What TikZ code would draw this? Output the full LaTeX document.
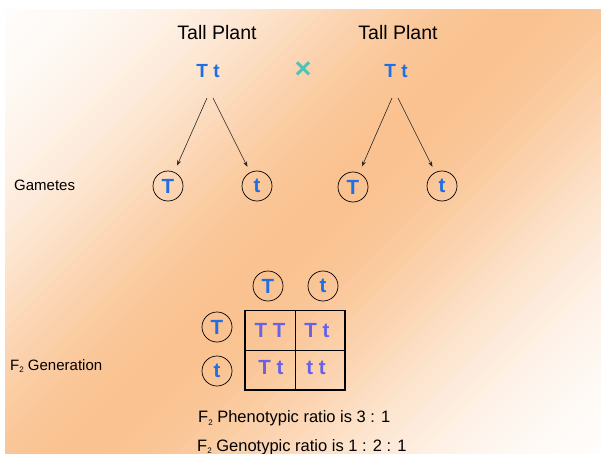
\documentclass[tikz,border=0pt]{standalone}
\usepackage{fontspec}
\setmainfont{Liberation Sans}
\usetikzlibrary{arrows.meta}
\definecolor{bgor}{RGB}{250,194,144}
\definecolor{geneblue}{RGB}{30,110,228}
\definecolor{cellpurple}{RGB}{104,96,232}
\definecolor{crossteal}{RGB}{76,196,184}
\newcommand\subtwo{\raisebox{-2.5pt}{\fontsize{8}{8}\selectfont 2}}
\tikzset{
  tplabel/.style={font=\fontsize{19.5}{22}\selectfont, text=black, inner sep=0pt},
  sidelabel/.style={font=\fontsize{15}{17}\selectfont, text=black, inner sep=0pt},
  ratiotext/.style={font=\fontsize{16.5}{19}\selectfont, text=black, inner sep=0pt},
  geno/.style={font=\bfseries\fontsize{19}{21}\selectfont, text=geneblue, inner sep=0pt},
  crossn/.style={font=\bfseries\fontsize{29}{30}\selectfont, text=crossteal, inner sep=0pt},
  gamete/.style={circle, draw=black, line width=0.7pt, minimum size=30pt, inner sep=0pt,
    text=geneblue, font=\bfseries\fontsize{20.5}{22}\selectfont},
  cellgeno/.style={font=\bfseries\fontsize{20.5}{22}\selectfont, text=cellpurple, inner sep=0pt},
  arr/.style={-{Stealth[length=5.5pt,width=4pt]}, line width=0.6pt, draw=black!85},
}
\begin{document}
\begin{tikzpicture}[x=1pt,y=-1pt]
\useasboundingbox (0,0) rectangle (601,454);
\fill[white] (0,0) rectangle (601,454);
% background gradient
\begin{scope}
\clip (5,10) rectangle (601,454);
\foreach \i in {0,...,79}{
  \pgfmathsetmacro\sa{-380+\i*9.5}
  \pgfmathsetmacro\sb{\sa+10.5}
  \pgfmathsetmacro\sm{\sa+4.75}
  \pgfmathsetmacro\p{100*exp(-(\sm/205)*(\sm/205))}
  \fill[bgor!\p!white] ({303+0.7071*(\sa+450)},{232+0.7071*(\sa-450)})
    -- ({303+0.7071*(\sa-450)},{232+0.7071*(\sa+450)})
    -- ({303+0.7071*(\sb-450)},{232+0.7071*(\sb+450)})
    -- ({303+0.7071*(\sb+450)},{232+0.7071*(\sb-450)}) -- cycle;
}
\end{scope}

% parents
\node[tplabel, anchor=base] (tp1) at (217,39.5) {Tall Plant};
\node[tplabel, anchor=base] (tp2) at (398,39.5) {Tall Plant};
\node[geno, anchor=base] (p1) at (208,77.3) {T t};
\node[geno, anchor=base] (p2) at (396,77.3) {T t};
\node[crossn] (cross) at (303,70.5) {×};

% gametes
\node[sidelabel, anchor=base west] (gam) at (14,190.5) {Gametes};
\node[gamete] (ga1) at (168,186) {T};
\node[gamete] (ga2) at (257,186) {t};
\node[gamete] (ga3) at (353,187) {T};
\node[gamete] (ga4) at (442,186) {t};

\coordinate (p1l) at (207,98);
\coordinate (p1r) at (213,98);
\coordinate (p2l) at (392,98);
\coordinate (p2r) at (398,98);
\draw[arr, shorten >=7pt] (p1l) -- (ga1);
\draw[arr, shorten >=6pt] (p1r) -- (ga2);
\draw[arr, shorten >=7pt] (p2l) -- (ga3);
\draw[arr, shorten >=6pt] (p2r) -- (ga4);

% Punnett square
\node[sidelabel, anchor=base west] (f2) at (10,370) {F\subtwo{} Generation};
\node[gamete] (top1) at (268,286) {T};
\node[gamete] (top2) at (323,286) {t};
\node[gamete] (left1) at (217,327) {T};
\node[gamete] (left2) at (217,371) {t};

\draw[line width=0.9pt] (295.5,310.5) -- (295.5,390);
\draw[line width=0.9pt] (245,350.5) -- (345,350.5);
\draw[line width=1.7pt] (245,310.5) rectangle (345,390);

\node[cellgeno, anchor=base] (c11) at (270,337) {T T};
\node[cellgeno, anchor=base] (c12) at (317,337) {T t};
\node[cellgeno, anchor=base] (c21) at (271,374) {T t};
\node[cellgeno, anchor=base] (c22) at (316,374) {t t};

% ratios
\node[ratiotext, anchor=base west] (r1) at (198,422.5) {F\subtwo{} Phenotypic ratio is 3 : 1};
\node[ratiotext, anchor=base west] (r2) at (197,451) {F\subtwo{} Genotypic ratio is 1 : 2 : 1};
\end{tikzpicture}
\end{document}
